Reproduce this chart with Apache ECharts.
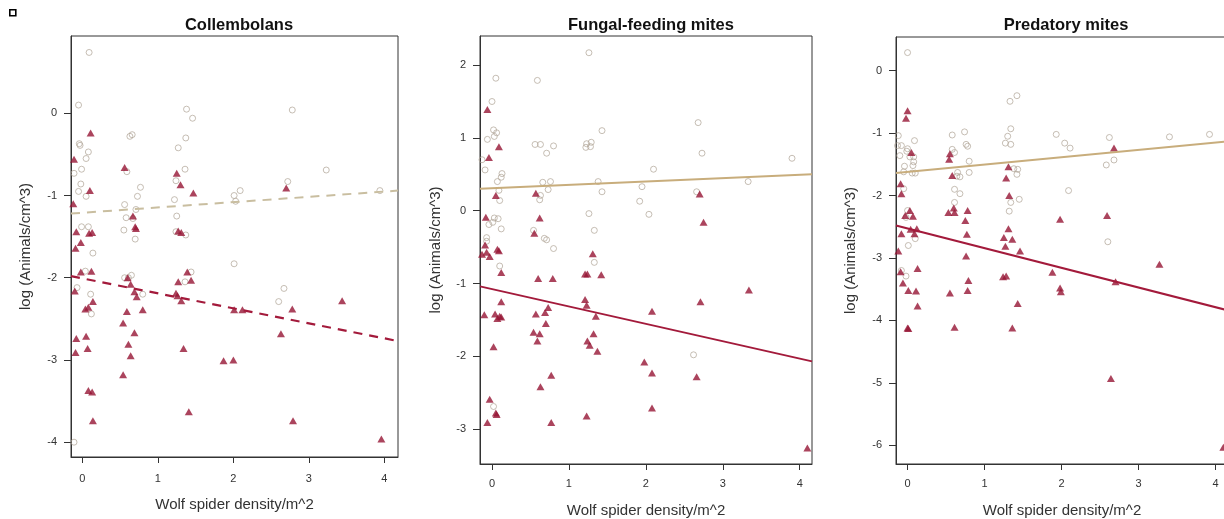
<!DOCTYPE html>
<html>
<head>
<meta charset="utf-8">
<script src="https://cdn.jsdelivr.net/npm/echarts@6/dist/echarts.min.js"></script>
<style>
html,body{margin:0;padding:0;background:#fff;}
#chart{width:1224px;height:519px;}
</style>
</head>
<body>
<div id="chart"></div>
<script>
// ---------- DATA ----------
const panelTitles = ['Collembolans', 'Fungal-feeding mites', 'Predatory mites'];
const xName = 'Wolf spider density/m^2';
const yName = 'log (Animals/cm^3)';

const xTicks = [0, 1, 2, 3, 4];
const yTicks1 = [0, -1, -2, -3, -4];
const yTicks2 = [2, 1, 0, -1, -2, -3];
const yTicks3 = [0, -1, -2, -3, -4, -5, -6];

// Collembolans
const collCircles = [[0.09,0.74],[-0.05,0.10],[1.38,0.05],[1.46,-0.06],[2.78,0.04],[-0.04,-0.37],[-0.03,-0.39],[0.63,-0.28],[0.66,-0.26],[1.37,-0.30],[1.27,-0.42],[0.08,-0.47],[0.05,-0.55],[-0.01,-0.68],[-0.11,-0.73],[0.59,-0.71],[1.36,-0.68],[3.23,-0.69],[-0.02,-0.86],[-0.05,-0.95],[0.05,-1.01],[0.77,-0.90],[0.73,-1.01],[1.24,-0.82],[2.72,-0.83],[2.09,-0.94],[2.01,-1.00],[2.03,-1.07],[3.94,-0.94],[1.22,-1.05],[0.56,-1.11],[0.71,-1.17],[0.58,-1.27],[0.67,-1.28],[1.25,-1.25],[-0.01,-1.38],[0.08,-1.38],[0.55,-1.42],[1.24,-1.44],[1.37,-1.48],[0.70,-1.53],[0.14,-1.70],[0.04,-1.92],[-0.07,-2.12],[0.56,-2.00],[0.61,-2.00],[0.65,-1.97],[0.80,-2.20],[0.11,-2.20],[0.12,-2.44],[1.36,-2.05],[1.44,-1.93],[2.01,-1.83],[2.67,-2.13],[2.60,-2.29],[-0.11,-4.00]];
const collTriangles = [[0.11,-0.24],[-0.11,-0.56],[0.56,-0.66],[1.25,-0.73],[1.30,-0.87],[0.10,-0.94],[1.47,-0.97],[2.70,-0.91],[-0.12,-1.10],[0.67,-1.25],[0.70,-1.38],[0.71,-1.40],[-0.08,-1.44],[0.09,-1.46],[0.13,-1.45],[1.27,-1.43],[1.31,-1.45],[-0.02,-1.57],[-0.09,-1.64],[-0.02,-1.93],[0.12,-1.92],[-0.10,-2.16],[0.60,-2.00],[0.64,-2.08],[0.69,-2.17],[0.72,-2.23],[0.14,-2.29],[0.08,-2.36],[0.04,-2.38],[0.59,-2.41],[0.80,-2.39],[0.54,-2.55],[1.27,-2.05],[1.39,-1.93],[1.44,-2.03],[1.24,-2.19],[1.26,-2.22],[1.31,-2.28],[2.01,-2.39],[2.12,-2.39],[2.78,-2.38],[3.44,-2.28],[2.63,-2.68],[-0.08,-2.74],[0.05,-2.71],[0.07,-2.86],[-0.09,-2.91],[0.69,-2.67],[0.61,-2.81],[0.64,-2.95],[1.34,-2.86],[1.87,-3.01],[2.00,-3.00],[0.54,-3.18],[0.08,-3.37],[0.13,-3.39],[0.14,-3.74],[1.41,-3.63],[2.79,-3.74],[3.96,-3.96]];
const collTanLine = [[-0.15,-1.22],[4.18,-0.94]];
const collRedLine = [[-0.15,-1.98],[4.18,-2.77]];

// Fungal-feeding mites
const fungCircles = [[1.26,2.17],[0.05,1.82],[0.59,1.79],[0.00,1.50],[0.02,1.11],[0.06,1.07],[0.03,1.02],[-0.06,0.98],[0.56,0.91],[0.63,0.91],[0.80,0.89],[0.71,0.79],[1.23,0.92],[1.29,0.94],[1.22,0.87],[1.28,0.88],[1.43,1.10],[2.68,1.21],[2.73,0.79],[3.90,0.72],[2.10,0.57],[-0.13,0.70],[-0.09,0.56],[0.13,0.51],[0.12,0.46],[0.07,0.40],[0.09,0.28],[0.10,0.14],[0.66,0.39],[0.76,0.40],[0.73,0.29],[0.63,0.21],[0.62,0.15],[1.38,0.40],[1.43,0.26],[1.95,0.33],[1.92,0.13],[2.04,-0.05],[2.66,0.26],[3.33,0.40],[1.26,-0.04],[1.33,-0.27],[0.03,-0.10],[0.08,-0.11],[0.01,-0.16],[-0.04,-0.19],[0.12,-0.25],[-0.07,-0.37],[-0.07,-0.42],[0.68,-0.38],[0.71,-0.40],[0.80,-0.52],[0.54,-0.27],[0.10,-0.76],[1.33,-0.71],[2.62,-1.98],[0.02,-2.69]];
const fungTriangles = [[-0.06,1.39],[0.09,0.88],[-0.04,0.73],[0.05,0.21],[0.57,0.24],[2.70,0.23],[2.75,-0.16],[-0.08,-0.09],[0.62,-0.10],[0.55,-0.31],[-0.09,-0.47],[0.07,-0.53],[1.31,-0.59],[-0.13,-0.60],[-0.07,-0.57],[-0.03,-0.63],[0.09,-0.55],[0.12,-0.85],[0.60,-0.93],[0.79,-0.93],[1.21,-0.87],[1.24,-0.87],[1.42,-0.88],[3.34,-1.09],[2.71,-1.25],[0.12,-1.25],[-0.10,-1.43],[0.04,-1.42],[0.10,-1.45],[0.07,-1.48],[0.12,-1.46],[0.57,-1.42],[0.69,-1.40],[0.73,-1.33],[0.70,-1.55],[0.54,-1.67],[0.62,-1.69],[0.59,-1.79],[0.02,-1.87],[1.21,-1.22],[1.23,-1.30],[1.35,-1.45],[1.32,-1.69],[1.24,-1.79],[1.27,-1.85],[1.37,-1.93],[2.08,-1.38],[1.98,-2.08],[2.08,-2.23],[0.77,-2.26],[0.63,-2.42],[-0.03,-2.59],[0.05,-2.78],[0.06,-2.80],[-0.06,-2.91],[0.77,-2.91],[1.23,-2.82],[2.08,-2.71],[2.66,-2.28],[4.10,-3.26]];
const fungTanLine = [[-0.156,0.30],[4.16,0.50]];
const fungRedLine = [[-0.156,-1.04],[4.16,-2.07]];

// Predatory mites
const predCircles = [[0.00,0.29],[1.33,-0.49],[1.42,-0.40],[-0.12,-1.04],[-0.08,-1.20],[-0.13,-1.20],[0.00,-1.25],[-0.01,-1.29],[-0.10,-1.36],[0.03,-1.38],[0.08,-1.38],[0.09,-1.12],[0.08,-1.46],[0.07,-1.52],[-0.04,-1.53],[0.10,-1.64],[0.06,-1.64],[-0.05,-1.62],[-0.05,-1.89],[0.00,-2.24],[-0.02,-2.35],[0.01,-2.80],[0.10,-2.69],[0.58,-1.03],[0.74,-0.98],[0.76,-1.18],[0.78,-1.21],[0.58,-1.26],[0.61,-1.31],[0.80,-1.45],[0.65,-1.63],[0.68,-1.70],[0.64,-1.69],[0.80,-1.63],[0.61,-1.90],[0.68,-1.97],[0.61,-2.11],[1.30,-1.05],[1.34,-0.93],[1.27,-1.16],[1.34,-1.18],[1.38,-1.57],[1.43,-1.58],[1.42,-1.66],[1.34,-2.11],[1.32,-2.25],[1.45,-2.06],[1.93,-1.02],[2.04,-1.16],[2.11,-1.24],[2.09,-1.92],[2.62,-1.07],[2.58,-1.51],[2.68,-1.43],[2.60,-2.74],[3.40,-1.06],[3.92,-1.02],[-0.08,-3.20],[-0.02,-3.29]];
const predTriangles = [[0.00,-0.64],[-0.02,-0.76],[0.55,-1.33],[0.54,-1.42],[0.05,-1.31],[0.58,-1.68],[1.31,-1.54],[1.28,-1.72],[1.32,-2.00],[2.68,-1.24],[-0.09,-1.81],[-0.08,-1.97],[0.03,-2.24],[-0.03,-2.32],[0.07,-2.33],[0.78,-2.24],[0.53,-2.27],[0.60,-2.20],[0.61,-2.27],[0.75,-2.40],[1.98,-2.38],[2.59,-2.32],[1.31,-2.53],[-0.08,-2.61],[0.04,-2.54],[0.09,-2.61],[0.12,-2.53],[0.77,-2.62],[1.25,-2.67],[1.36,-2.70],[1.27,-2.81],[-0.12,-2.89],[0.76,-2.97],[1.46,-2.89],[-0.09,-3.22],[0.13,-3.17],[-0.06,-3.40],[0.01,-3.52],[0.11,-3.53],[0.13,-3.77],[0.00,-4.12],[0.01,-4.13],[0.55,-3.56],[0.61,-4.11],[0.79,-3.36],[0.78,-3.52],[1.24,-3.30],[1.28,-3.29],[1.43,-3.73],[1.36,-4.12],[1.88,-3.23],[1.98,-3.48],[1.99,-3.54],[3.27,-3.10],[2.70,-3.38],[2.64,-4.93],[4.10,-6.03]];
const predTanLine = [[-0.15,-1.64],[4.16,-1.13]];
const predRedLine = [[-0.15,-2.48],[4.16,-3.84]];

// ---------- CHART ----------
const FONT = '"Liberation Sans", Arial, sans-serif';
const RED = '#961535';
const LINE_RED = '#a31a3b';
const TAN_CIRCLE = '#b0a497';

const panels = [
  {circles: collCircles, tris: collTriangles, tan: collTanLine, red: collRedLine, dashed: true,
   grid: {left: 71, top: 36, width: 327, height: 421}, x: [-0.15, 4.18], y: [-4.18, 0.94], yTicks: yTicks1,
   titleX: 234, xGap: 40, xMargin: 16, yGap: 38, tanColor: '#c9bea0'},
  {circles: fungCircles, tris: fungTriangles, tan: fungTanLine, red: fungRedLine, dashed: false,
   grid: {left: 480, top: 36, width: 332, height: 428}, x: [-0.156, 4.16], y: [-3.48, 2.40], yTicks: yTicks2,
   titleX: 646, xGap: 39, xMargin: 14, yGap: 37, tanColor: '#c8ad7c'},
  {circles: predCircles, tris: predTriangles, tan: predTanLine, red: predRedLine, dashed: false,
   grid: {left: 896, top: 37, width: 332, height: 427}, x: [-0.15, 4.16], y: [-6.30, 0.54], yTicks: yTicks3,
   titleX: 1061, xGap: 39, xMargin: 14, yGap: 38, tanColor: '#c8ad7c'}
];

const option = {
  backgroundColor: '#ffffff',
  animation: false,
  title: panels.map((p, i) => ({
    text: panelTitles[i], left: p.titleX, top: 12, textAlign: 'center',
    textStyle: {fontFamily: FONT, fontSize: 16.5, fontWeight: 'bold', color: '#111'}
  })),
  grid: panels.map(p => Object.assign({
    show: true, borderColor: '#333', borderWidth: 1, backgroundColor: 'transparent',
    containLabel: false, outerBoundsMode: 'none'
  }, p.grid)),
  xAxis: panels.map((p, i) => ({
    type: 'value', gridIndex: i, min: p.x[0], max: p.x[1],
    name: xName, nameLocation: 'middle', nameGap: p.xGap,
    nameTextStyle: {fontFamily: FONT, fontSize: 15, color: '#333'},
    axisLine: {show: true, onZero: false, lineStyle: {color: '#333', width: 1}},
    axisTick: {show: true, length: 6, customValues: xTicks, lineStyle: {color: '#333'}},
    axisLabel: {customValues: xTicks, margin: p.xMargin, fontFamily: FONT, fontSize: 11, color: '#333'},
    splitLine: {show: false}
  })),
  yAxis: panels.map((p, i) => ({
    type: 'value', gridIndex: i, min: p.y[0], max: p.y[1],
    name: yName, nameLocation: 'middle', nameGap: p.yGap,
    nameTextStyle: {fontFamily: FONT, fontSize: 15, color: '#333'},
    axisLine: {show: true, onZero: false, lineStyle: {color: '#333', width: 1}},
    axisTick: {show: true, length: 7, customValues: p.yTicks, lineStyle: {color: '#333'}},
    axisLabel: {customValues: p.yTicks, margin: 14, fontFamily: FONT, fontSize: 11, color: '#333'},
    splitLine: {show: false}
  })),
  graphic: [{
    type: 'rect', left: 9, top: 9, shape: {width: 6, height: 6},
    style: {fill: '#fff', stroke: '#000', lineWidth: 1.6}
  }],
  series: []
};

panels.forEach((p, i) => {
  option.series.push({
    type: 'scatter', xAxisIndex: i, yAxisIndex: i, data: p.circles,
    symbol: 'circle', symbolSize: 6,
    itemStyle: {color: 'rgba(255,255,255,0)', borderColor: TAN_CIRCLE, borderWidth: 0.9},
    z: 2
  });
  option.series.push({
    type: 'scatter', xAxisIndex: i, yAxisIndex: i, data: p.tris,
    symbol: 'triangle', symbolSize: [8, 7],
    itemStyle: {color: RED},
    z: 3
  });
  option.series.push({
    type: 'line', xAxisIndex: i, yAxisIndex: i, data: p.tan, symbol: 'none',
    lineStyle: {color: p.tanColor, width: 2, type: p.dashed ? [9, 7] : 'solid'},
    z: 4
  });
  option.series.push({
    type: 'line', xAxisIndex: i, yAxisIndex: i, data: p.red, symbol: 'none',
    lineStyle: {color: LINE_RED, width: p.dashed ? 2.2 : 2, type: p.dashed ? [9, 7] : 'solid'},
    z: 4
  });
});

const chart = echarts.init(document.getElementById('chart'), null, {renderer: 'canvas'});
chart.setOption(option);
</script>
</body>
</html>
